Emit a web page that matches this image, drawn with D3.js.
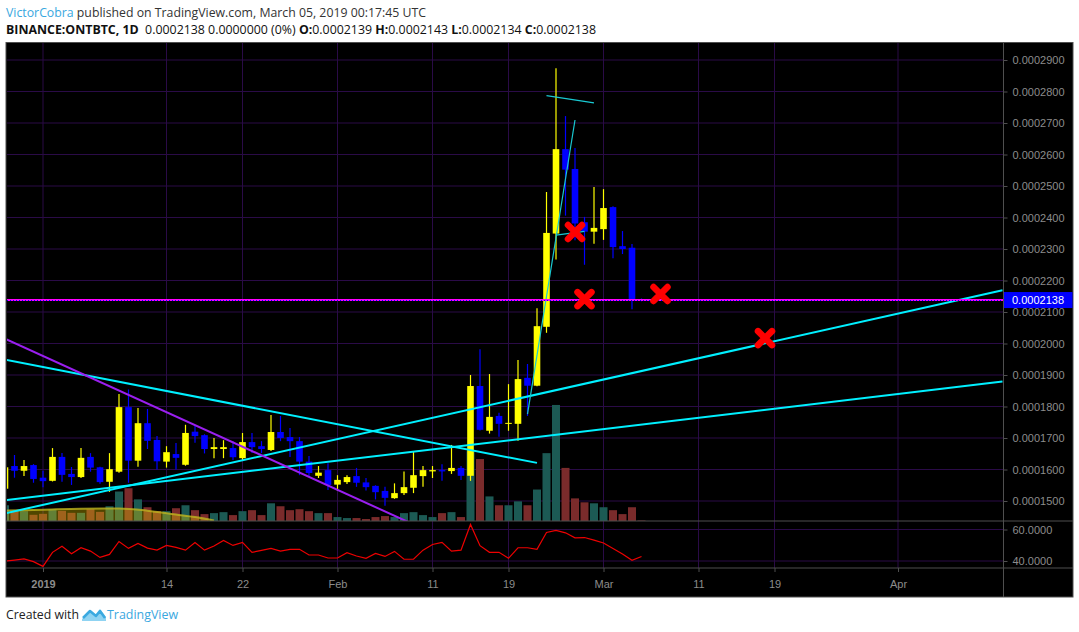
<!DOCTYPE html>
<html>
<head>
<meta charset="utf-8">
<script src="https://cdnjs.cloudflare.com/ajax/libs/d3/7.8.5/d3.min.js"></script>
<style>
    body { margin: 0; background: #fff; }
    svg { display: block; }
</style>
</head>
<body>
<div id="chart"></div>
<script>
// ONT/BTC daily, prices in satoshi, one value per day from 2018-12-28
var firstDay = "2018-12-28";
var opens = [15390, 16110, 15960, 16140, 15740, 15640, 16400, 15860, 15760, 16400, 16070, 15610, 15930, 17980, 16280, 17470, 16940, 16250, 16490, 16150, 17200, 17090, 16650, 16650, 16680, 16360, 16870, 16740, 16620, 17190, 17030, 16900, 16250, 15800, 15980,
    15520, 15600, 15790, 15590, 15480, 15320, 15090, 15250, 15420, 15790, 15940, 15980, 15950, 16050, 15800, 18650, 17230, 17700, 17450, 17450, 18910, 18660, 20530, 23490, 26170, 25540, 23850, 23550,
    23630, 24330, 23090, 23040, 21390];
var highs = [16120, 16460, 16300, 16170, 15960, 16680, 16520, 16080, 16680, 16520, 16090, 16520, 18400, 18540, 17950, 17920, 17060, 16740, 16840, 17420, 17390, 17120, 17000, 16930, 16900, 17160, 17160, 16900, 17730, 17700, 17320, 17030, 16430, 16110, 16200,
    15820, 15820, 16050, 15730, 15500, 15450, 15560, 15940, 16560, 16110, 16110, 16170, 16780, 16110, 19000, 19820, 19030, 17800, 18710, 19480, 19350, 21120, 24810, 28740, 27220, 26210, 24020, 24970,
    24900, 24360, 23570, 23160, 21430];
var lows = [15350, 15740, 15790, 15580, 15440, 15620, 15610, 15510, 15730, 15930, 15550, 15290, 15900, 15580, 16090, 16650, 16000, 16060, 16000, 16120, 16850, 16510, 16360, 16360, 16300, 16300, 16520, 16520, 16590, 16900, 16400, 15820, 15760, 15730, 15350,
    15320, 15540, 15450, 15330, 15050, 14850, 15070, 15190, 15250, 15450, 15730, 15640, 15860, 15670, 15640, 17240, 17140, 17040, 17230, 16910, 17700, 18640, 20340, 22670, 24060, 23280, 22500, 23170,
    23290, 22710, 22840, 21090, 21340];
var closes = [16070, 15960, 16110, 15700, 15630, 16400, 15830, 15760, 16370, 16060, 15600, 16010, 17980, 16280, 17470, 16910, 16260, 16550, 16370, 17160, 17060, 16650, 16710, 16710, 16390, 16870, 16710, 16650, 17190, 17000, 16900, 16250, 15890, 15900, 15510,
    15670, 15760, 15580, 15440, 15280, 15100, 15250, 15440, 15820, 15980, 15980, 15940, 16050, 15800, 18650, 17260, 17670, 17450, 17480, 18870, 18660, 20550, 23510, 26170, 25520, 23810, 23550, 23670,
    24300, 23060, 23000, 21400, 21380];
var volumes = [16, 10, 10, 6.3, 7.3, 12, 10.3, 8.3, 8.3, 12, 9.3, 15, 30, 33.3, 22, 14, 10, 10, 13, 16, 11, 7, 8, 9, 6, 10, 11, 6, 18, 15, 11, 12, 10, 8, 8,
    4, 3, 3, 2, 4, 5, 4, 8, 9, 6, 4, 8, 9, 4, 71, 63, 25, 16, 16, 20, 16, 32, 69, 118,
    54, 23, 19, 18, 14, 11, 7, 14, 0.5];
var rsiValues = [40.0, 40.6, 41.3, 39.6, 36.6, 45.5, 49.3, 44.6, 48.4, 46.3, 42.3, 44.2, 52.4, 48.0, 51.2, 48.2, 46.9, 49.9, 48.6, 46.9, 51.8, 46.9, 49.5, 53.1, 49.9, 51.8, 45.5, 46.7, 48.0, 46.3, 47.4, 47.4, 43.8, 43.8, 41.9,
    41.9, 45.3, 43.2, 41.7, 44.8, 42.9, 46.1, 41.1, 41.1, 46.9, 50.5, 51.8, 46.3, 46.9, 63.2, 49.7, 45.5, 45.5, 41.7, 48.4, 48.4, 47.4, 58.1, 59.4, 57.9, 54.7, 54.9, 53.3,
    51.4, 48.0, 44.4, 40.4, 42.9];

// shaded volume average at the left of the volume pane
var volAvgDates = ["2018-12-27", "2019-01-01", "2019-01-05", "2019-01-09", "2019-01-12", "2019-01-15", "2019-01-17", "2019-01-19"];
var volAvgValues = [10.3, 11.5, 12.5, 12.7, 10.5, 6.5, 4, 0.5];

var priceTicks = [15000, 16000, 17000, 18000, 19000, 20000, 21000, 22000, 23000, 24000, 25000, 26000, 27000, 28000, 29000];
var rsiTicks = [40, 60];
var dateTicks = ["2019-01-01", "2019-01-14", "2019-01-22", "2019-02-01", "2019-02-11", "2019-02-19", "2019-03-01", "2019-03-11", "2019-03-19", "2019-04-01"];
var dateTickLabels = ["2019", "14", "22", "Feb", "11", "19", "Mar", "11", "19", "Apr"];

var lastPrice = 21380;

// drawn trendlines: [date, price] -> [date, price]
var trendlines = [
    {from: ["2018-12-27", 14540], to: ["2019-04-12", 21690], color: "#00f0ff", width: 2},
    {from: ["2018-12-27", 14990], to: ["2019-04-12", 18790], color: "#00f0ff", width: 2},
    {from: ["2018-12-27", 19545], to: ["2019-02-22", 16210], color: "#00f0ff", width: 2},
    {from: ["2018-12-27", 20290], to: ["2019-02-10", 14120], color: "#9a1ff0", width: 2},
    {from: ["2019-02-21", 17760], to: ["2019-02-26", 27095], color: "#19c9d2", width: 1.2},
    {from: ["2019-02-23", 27870], to: ["2019-02-28", 27640], color: "#19c9d2", width: 1.2},
    {from: ["2019-02-24", 23440], to: ["2019-02-27", 23560], color: "#19c9d2", width: 1.2}
];
var crossDates = ["2019-02-26", "2019-02-27", "2019-03-07", "2019-03-18"];
var crossPrices = [23540, 21410, 21570, 20170];

var width = 1079,
    height = 632;
var frame = {left: 6, right: 1073, top: 42.5, bottom: 597};
var plot = {left: 7, right: 1003, top: 43, split: 521, bottom: 568};

var parseDay = d3.utcParse("%Y-%m-%d");
var fmtPrice = function (d) { return (d / 1e8).toFixed(7); };
var upColor = "#ffff00",
    downColor = "#0000ff",
    gridColor = "#2a0b47",
    lineColor = "#4f4f4f",
    textColor = "#8c8c8c";

var candles = opens.map(function (o, i) {
    return {
        date: d3.utcDay.offset(parseDay(firstDay), i),
        open: o,
        high: highs[i],
        low: lows[i],
        close: closes[i],
        volume: volumes[i],
        rsi: rsiValues[i]
    };
});

var x = d3.scaleUtc()
    .domain([parseDay("2019-01-01"), parseDay("2019-04-01")])
    .range([43, 898]);
var y = d3.scaleLinear()
    .domain([15000, 29000])
    .range([501, 60]);
var yVol = d3.scaleLinear()
    .domain([0, 120])
    .range([plot.split, plot.split - 118]);
var yRsi = d3.scaleLinear()
    .domain([40, 60])
    .range([561, 529.5]);

var svg = d3.select("#chart").append("svg")
    .attr("width", width)
    .attr("height", height)
    .style("font-family", "'Liberation Sans', Arial, sans-serif");

var defs = svg.append("defs");
defs.append("clipPath").attr("id", "clipPrice")
    .append("rect")
    .attr("x", plot.left).attr("y", plot.top)
    .attr("width", plot.right - plot.left).attr("height", plot.split - plot.top);
defs.append("clipPath").attr("id", "clipRsi")
    .append("rect")
    .attr("x", plot.left).attr("y", plot.split)
    .attr("width", plot.right - plot.left).attr("height", plot.bottom - plot.split);

// header
var head1 = svg.append("text")
    .attr("x", 6).attr("y", 17)
    .attr("textLength", 420).attr("lengthAdjust", "spacingAndGlyphs")
    .style("font-family", "'Open Sans', sans-serif")
    .style("font-size", "12.5px")
    .attr("fill", "#333");
head1.append("tspan").attr("fill", "#3aa8e0").text("VictorCobra");
head1.append("tspan").text(" published on TradingView.com, March 05, 2019 00:17:45 UTC");

var head2 = svg.append("text")
    .attr("x", 6).attr("y", 34)
    .attr("textLength", 590).attr("lengthAdjust", "spacingAndGlyphs")
    .style("font-family", "'Open Sans', sans-serif")
    .style("font-size", "12.5px")
    .attr("fill", "#111");
[["BINANCE:ONTBTC, 1D", true], ["  0.0002138 0.0000000 (0%) ", false],
 ["O:", true], ["0.0002139 ", false], ["H:", true], ["0.0002143 ", false],
 ["L:", true], ["0.0002134 ", false], ["C:", true], ["0.0002138", false]].forEach(function (p) {
    head2.append("tspan")
        .attr("font-weight", p[1] ? "bold" : "normal")
        .style("white-space", "pre")
        .text(p[0]);
});

// chart background
svg.append("rect")
    .attr("x", frame.left).attr("y", frame.top)
    .attr("width", frame.right - frame.left).attr("height", frame.bottom - frame.top)
    .attr("fill", "#000")
    .attr("stroke", lineColor);

// grid
var grid = svg.append("g");
grid.selectAll("line.h")
    .data(priceTicks)
    .enter().append("line")
    .attr("x1", plot.left).attr("x2", plot.right)
    .attr("y1", function (d) { return y(d); })
    .attr("y2", function (d) { return y(d); })
    .attr("stroke", gridColor);
grid.selectAll("line.r")
    .data(rsiTicks)
    .enter().append("line")
    .attr("x1", plot.left).attr("x2", plot.right)
    .attr("y1", function (d) { return yRsi(d); })
    .attr("y2", function (d) { return yRsi(d); })
    .attr("stroke", gridColor);
grid.selectAll("line.v")
    .data(dateTicks)
    .enter().append("line")
    .attr("x1", function (d) { return x(parseDay(d)); })
    .attr("x2", function (d) { return x(parseDay(d)); })
    .attr("y1", plot.top).attr("y2", plot.bottom)
    .attr("stroke", gridColor);

var pane = svg.append("g").attr("clip-path", "url(#clipPrice)");

// volume
pane.append("g").selectAll("rect")
    .data(candles)
    .enter().append("rect")
    .attr("x", function (d) { return x(d.date) - 4; })
    .attr("width", 8)
    .attr("y", function (d) { return yVol(d.volume); })
    .attr("height", function (d) { return yVol(0) - yVol(d.volume); })
    .attr("fill", function (d) { return d.close >= d.open ? "#1c5a54" : "#7a2b2b"; });

var volAvg = volAvgDates.map(function (d, i) { return {date: parseDay(d), v: volAvgValues[i]}; });
pane.append("path")
    .datum(volAvg)
    .attr("d", d3.area()
        .x(function (d) { return x(d.date); })
        .y0(yVol(0))
        .y1(function (d) { return yVol(d.v); })
        .curve(d3.curveMonotoneX))
    .attr("fill", "rgba(230,200,0,0.35)");
pane.append("path")
    .datum(volAvg)
    .attr("d", d3.line()
        .x(function (d) { return x(d.date); })
        .y(function (d) { return yVol(d.v); })
        .curve(d3.curveMonotoneX))
    .attr("fill", "none")
    .attr("stroke", "rgba(190,180,30,0.8)")
    .attr("stroke-width", 2);

// candles
var candle = pane.append("g").selectAll("g")
    .data(candles)
    .enter().append("g")
    .attr("fill", function (d) { return d.close >= d.open ? upColor : downColor; })
    .attr("stroke", function (d) { return d.close >= d.open ? upColor : downColor; });
candle.append("line")
    .attr("x1", function (d) { return x(d.date); })
    .attr("x2", function (d) { return x(d.date); })
    .attr("y1", function (d) { return y(d.high); })
    .attr("y2", function (d) { return y(d.low); })
    .attr("stroke-width", 1.2);
candle.append("rect")
    .attr("x", function (d) { return x(d.date) - 3.3; })
    .attr("width", 6.6)
    .attr("y", function (d) { return y(Math.max(d.open, d.close)); })
    .attr("height", function (d) { return Math.max(1, Math.abs(y(d.open) - y(d.close))); })
    .attr("stroke", "none");

// trendlines
pane.append("g").selectAll("line")
    .data(trendlines)
    .enter().append("line")
    .attr("x1", function (d) { return x(parseDay(d.from[0])); })
    .attr("y1", function (d) { return y(d.from[1]); })
    .attr("x2", function (d) { return x(parseDay(d.to[0])); })
    .attr("y2", function (d) { return y(d.to[1]); })
    .attr("stroke", function (d) { return d.color; })
    .attr("stroke-width", function (d) { return d.width; });

// horizontal level and last price line
pane.append("line")
    .attr("x1", plot.left).attr("x2", plot.right)
    .attr("y1", y(lastPrice)).attr("y2", y(lastPrice))
    .attr("stroke", "#ff00ff")
    .attr("stroke-width", 2);
pane.append("line")
    .attr("x1", plot.left).attr("x2", plot.right)
    .attr("y1", y(lastPrice) + 0.5).attr("y2", y(lastPrice) + 0.5)
    .attr("stroke", "#0000ff")
    .attr("stroke-dasharray", "1,2");

// red crosses
pane.append("g").selectAll("path")
    .data(crossDates)
    .enter().append("path")
    .attr("transform", function (d, i) {
        return "translate(" + x(parseDay(d)) + "," + y(crossPrices[i]) + ")";
    })
    .attr("d", "M-7,-7L7,7M7,-7L-7,7")
    .attr("stroke", "#ff0000")
    .attr("stroke-width", 6.5)
    .attr("stroke-linecap", "round");

// rsi
svg.append("g").attr("clip-path", "url(#clipRsi)")
    .append("path")
    .datum(candles)
    .attr("d", d3.line()
        .x(function (d) { return x(d.date); })
        .y(function (d) { return yRsi(d.rsi); }))
    .attr("fill", "none")
    .attr("stroke", "#ee0000")
    .attr("stroke-width", 1.2);

// pane separators and axis border
svg.append("line")
    .attr("x1", frame.left).attr("x2", frame.right)
    .attr("y1", plot.split).attr("y2", plot.split)
    .attr("stroke", lineColor);
svg.append("line")
    .attr("x1", frame.left).attr("x2", frame.right)
    .attr("y1", plot.bottom).attr("y2", plot.bottom)
    .attr("stroke", lineColor);
svg.append("line")
    .attr("x1", plot.right + 0.5).attr("x2", plot.right + 0.5)
    .attr("y1", frame.top).attr("y2", frame.bottom)
    .attr("stroke", lineColor);

function styleAxis(g) {
    g.select(".domain").remove();
    g.selectAll(".tick line").attr("stroke", lineColor);
    g.selectAll(".tick text")
        .attr("fill", textColor)
        .style("font-size", "11px")
        .style("font-family", "'Liberation Sans', Arial, sans-serif");
}

var yAxis = d3.axisRight(y)
    .tickValues(priceTicks)
    .tickFormat(fmtPrice)
    .tickSize(4)
    .tickPadding(5);
svg.append("g")
    .attr("transform", "translate(" + (plot.right + 0.5) + ",0)")
    .call(yAxis)
    .call(styleAxis);

var rsiAxis = d3.axisRight(yRsi)
    .tickValues(rsiTicks)
    .tickFormat(d3.format(".4f"))
    .tickSize(4)
    .tickPadding(5);
svg.append("g")
    .attr("transform", "translate(" + (plot.right + 0.5) + ",0)")
    .call(rsiAxis)
    .call(styleAxis);

var xAxis = d3.axisBottom(x)
    .tickValues(dateTicks.map(parseDay))
    .tickFormat(function (d, i) { return dateTickLabels[i]; })
    .tickSize(4)
    .tickPadding(8);
var gX = svg.append("g")
    .attr("transform", "translate(0," + plot.bottom + ")")
    .call(xAxis)
    .call(styleAxis);
gX.selectAll(".tick text")
    .attr("font-weight", function (d, i) { return i == 0 ? "bold" : "normal"; });

// last price label
svg.append("rect")
    .attr("x", plot.right + 1).attr("y", y(lastPrice) - 8)
    .attr("width", frame.right - plot.right - 1.5).attr("height", 16)
    .attr("fill", "#0000ff");
svg.append("text")
    .attr("x", plot.right + 9).attr("y", y(lastPrice) + 4)
    .attr("fill", "#fff")
    .style("font-size", "11px")
    .text(fmtPrice(lastPrice));

// footer
svg.append("text")
    .attr("x", 6).attr("y", 619)
    .attr("textLength", 73).attr("lengthAdjust", "spacingAndGlyphs")
    .style("font-family", "'Open Sans', sans-serif")
    .style("font-size", "13px")
    .attr("fill", "#222")
    .text("Created with");
var logo = svg.append("g").attr("transform", "translate(82,606)");
logo.append("path")
    .attr("d", "M0,13 L8,5 L13,9 L18,3 L24,11 L24,15 L0,15 Z")
    .attr("fill", "#8fd3f2");
logo.append("path")
    .attr("d", "M1,12 L8,5 L14,10 L18,5 L23,12")
    .attr("fill", "none")
    .attr("stroke", "#3ba9e0")
    .attr("stroke-width", 2.5)
    .attr("stroke-linejoin", "round");
svg.append("text")
    .attr("x", 107).attr("y", 619)
    .attr("textLength", 71).attr("lengthAdjust", "spacingAndGlyphs")
    .style("font-family", "'Open Sans', sans-serif")
    .style("font-size", "13px")
    .attr("fill", "#3aa8e0")
    .text("TradingView");
</script>
</body>
</html>
